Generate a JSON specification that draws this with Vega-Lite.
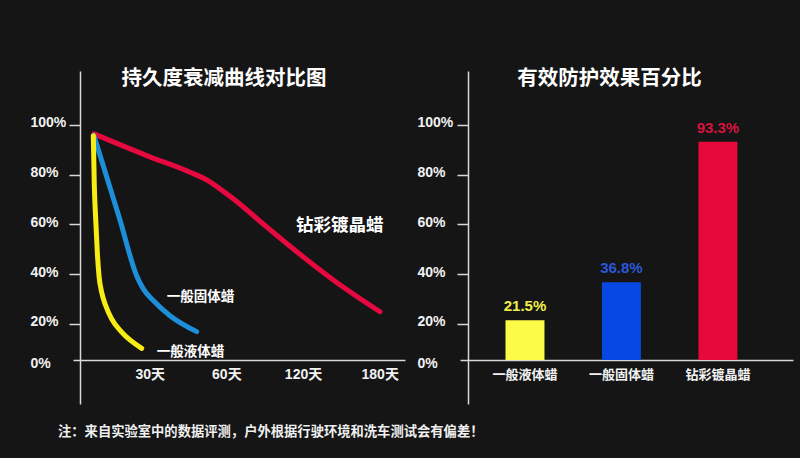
{
  "$schema": "https://vega.github.io/schema/vega-lite/v6.json",
  "background": "#151515",
  "padding": {"left": 30, "top": 68, "right": 7, "bottom": 19},
  "config": {
    "font": "Liberation Sans, Noto Sans CJK SC",
    "view": {"stroke": null},
    "axis": {"domainColor": "#d8d8d8", "domainWidth": 1.5, "tickColor": "#d8d8d8", "tickWidth": 1.5, "labelColor": "#f2f2f2", "labelFontWeight": "bold", "grid": false}
  },
  "title": {"text": "注：来自实验室中的数据评测，户外根据行驶环境和洗车测试会有偏差！", "orient": "bottom", "anchor": "start", "offset": 21, "dx": 28, "fontSize": 13.3, "fontWeight": "bold", "color": "#f0f0f0", "font": "Noto Sans CJK SC"},
  "spacing": 12,
  "hconcat": [
    {
      "width": 332,
      "height": 333,
      "title": {"text": "持久度衰减曲线对比图", "fontSize": 20.5, "fontWeight": "bold", "color": "#ffffff", "anchor": "middle", "baseline": "middle", "offset": -28, "dx": -15, "font": "Noto Sans CJK SC"},
      "data": {"values": [
        {"wax": "钻彩镀晶蜡", "t": 0.274, "v": 96.4},
        {"wax": "钻彩镀晶蜡", "t": 0.961, "v": 87.7},
        {"wax": "钻彩镀晶蜡", "t": 1.526, "v": 81.0},
        {"wax": "钻彩镀晶蜡", "t": 1.75, "v": 77.8},
        {"wax": "钻彩镀晶蜡", "t": 1.917, "v": 74.3},
        {"wax": "钻彩镀晶蜡", "t": 2.09, "v": 70.3},
        {"wax": "钻彩镀晶蜡", "t": 2.526, "v": 59.0},
        {"wax": "钻彩镀晶蜡", "t": 2.96, "v": 48.0},
        {"wax": "钻彩镀晶蜡", "t": 3.39, "v": 37.8},
        {"wax": "钻彩镀晶蜡", "t": 4.004, "v": 24.9},
        {"wax": "一般固体蜡", "t": 0.274, "v": 95.7},
        {"wax": "一般固体蜡", "t": 0.609, "v": 62.2},
        {"wax": "一般固体蜡", "t": 0.83, "v": 39.4},
        {"wax": "一般固体蜡", "t": 0.917, "v": 34.1},
        {"wax": "一般固体蜡", "t": 1.047, "v": 29.4},
        {"wax": "一般固体蜡", "t": 1.265, "v": 23.3},
        {"wax": "一般固体蜡", "t": 1.613, "v": 16.9},
        {"wax": "一般液体蜡", "t": 0.265, "v": 95.7},
        {"wax": "一般液体蜡", "t": 0.278, "v": 75.6},
        {"wax": "一般液体蜡", "t": 0.296, "v": 62.2},
        {"wax": "一般液体蜡", "t": 0.317, "v": 48.8},
        {"wax": "一般液体蜡", "t": 0.339, "v": 39.4},
        {"wax": "一般液体蜡", "t": 0.374, "v": 32.7},
        {"wax": "一般液体蜡", "t": 0.426, "v": 27.4},
        {"wax": "一般液体蜡", "t": 0.504, "v": 22.0},
        {"wax": "一般液体蜡", "t": 0.635, "v": 16.7},
        {"wax": "一般液体蜡", "t": 0.896, "v": 10.2}
      ]},
      "encoding": {
        "x": {"field": "t", "type": "quantitative", "scale": {"domain": [0, 4.33], "nice": false, "zero": false},
          "axis": {"title": null, "values": [1, 2, 3, 4], "labelExpr": "['','30天','60天','120天','180天'][datum.value]", "offset": -44, "ticks": false, "tickSize": 0, "labelPadding": 14, "labelBaseline": "middle", "labelFontSize": 14, "labelFlush": false}},
        "y": {"field": "v", "type": "quantitative", "scale": {"domain": [-12.2, 121.7], "nice": false, "zero": false},
          "axis": {"title": null, "values": [5.5, 20, 40, 60, 80, 100], "labelExpr": "datum.value < 10 ? '0%' : datum.value + '%'", "offset": -7, "tickSize": 11, "labelPadding": 39, "labelAlign": "left", "labelBaseline": "middle", "labelFontSize": 14,
            "tickOpacity": {"condition": {"test": "datum.value < 10", "value": 0}, "value": 1},
            "labelOffset": {"condition": {"test": "datum.value < 10", "value": 4}, "value": -2}}}
      },
      "layer": [
        {
          "mark": {"type": "line", "strokeWidth": 5, "strokeCap": "round", "strokeJoin": "round", "interpolate": "monotone"},
          "encoding": {
            "color": {"field": "wax", "type": "nominal", "scale": {"domain": ["钻彩镀晶蜡", "一般固体蜡", "一般液体蜡"], "range": ["#e6093f", "#1c8fd8", "#f7ec13"]}, "legend": null},
            "order": {"field": "t"}
          }
        },
        {
          "transform": [
            {"joinaggregate": [{"op": "max", "field": "t", "as": "tmax"}], "groupby": ["wax"]},
            {"filter": "datum.t === datum.tmax && datum.wax === '一般固体蜡'"}
          ],
          "mark": {"type": "text", "align": "left", "baseline": "middle", "dx": -30, "dy": -35, "fontSize": 13.5, "fontWeight": "bold", "color": "#ffffff", "font": "Noto Sans CJK SC"},
          "encoding": {"text": {"field": "wax"}}
        },
        {
          "transform": [
            {"joinaggregate": [{"op": "max", "field": "t", "as": "tmax"}], "groupby": ["wax"]},
            {"filter": "datum.t === datum.tmax && datum.wax === '一般液体蜡'"}
          ],
          "mark": {"type": "text", "align": "left", "baseline": "middle", "dx": 15, "dy": 4, "fontSize": 13.5, "fontWeight": "bold", "color": "#ffffff", "font": "Noto Sans CJK SC"},
          "encoding": {"text": {"field": "wax"}}
        },
        {
          "transform": [
            {"joinaggregate": [{"op": "max", "field": "t", "as": "tmax"}], "groupby": ["wax"]},
            {"filter": "datum.t === datum.tmax && datum.wax === '钻彩镀晶蜡'"}
          ],
          "mark": {"type": "text", "align": "left", "baseline": "middle", "dx": -84, "dy": -86, "fontSize": 17.5, "fontWeight": "bold", "color": "#ffffff", "font": "Noto Sans CJK SC"},
          "encoding": {"text": {"field": "wax"}}
        }
      ]
    },
    {
      "width": 333,
      "height": 333,
      "title": {"text": "有效防护效果百分比", "fontSize": 20.5, "fontWeight": "bold", "color": "#ffffff", "anchor": "middle", "baseline": "middle", "offset": -28, "dx": -17, "font": "Noto Sans CJK SC"},
      "data": {"values": [
        {"wax": "一般液体蜡", "pct": 21.5},
        {"wax": "一般固体蜡", "pct": 36.8},
        {"wax": "钻彩镀晶蜡", "pct": 93.3}
      ]},
      "encoding": {
        "x": {"field": "wax", "type": "nominal", "sort": null, "scale": {"paddingInner": 0.596, "paddingOuter": 0.524, "align": 0.45},
          "axis": {"title": null, "labelAngle": 0, "offset": -44, "ticks": false, "tickSize": 0, "labelPadding": 14, "labelBaseline": "middle", "labelFontSize": 13, "labelFont": "Noto Sans CJK SC"}}
      },
      "layer": [
        {
          "mark": {"type": "bar"},
          "encoding": {
            "y": {"field": "pct", "type": "quantitative", "scale": {"domain": [-12.2, 121.7], "nice": false, "zero": false},
              "axis": {"title": null, "values": [5.5, 20, 40, 60, 80, 100], "labelExpr": "datum.value < 10 ? '0%' : datum.value + '%'", "offset": -8, "tickSize": 11, "labelPadding": 40, "labelAlign": "left", "labelBaseline": "middle", "labelFontSize": 14,
                "tickOpacity": {"condition": {"test": "datum.value < 10", "value": 0}, "value": 1},
                "labelOffset": {"condition": {"test": "datum.value < 10", "value": 4}, "value": -2}}},
            "y2": {"datum": 5.5},
            "color": {"field": "wax", "type": "nominal", "scale": {"domain": ["一般液体蜡", "一般固体蜡", "钻彩镀晶蜡"], "range": ["#fcfc48", "#0848e2", "#e60a3c"]}, "legend": null}
          }
        },
        {
          "transform": [{"calculate": "datum.pct + '%'", "as": "label"}],
          "mark": {"type": "text", "dy": -14, "fontSize": 15, "fontWeight": "bold", "baseline": "middle"},
          "encoding": {
            "y": {"field": "pct", "type": "quantitative"},
            "text": {"field": "label"},
            "color": {"field": "wax", "type": "nominal", "scale": {"domain": ["一般液体蜡", "一般固体蜡", "钻彩镀晶蜡"], "range": ["#f0ee4c", "#2a58d8", "#d8123f"]}, "legend": null}
          }
        }
      ],
      "resolve": {"scale": {"color": "independent"}}
    }
  ]
}
